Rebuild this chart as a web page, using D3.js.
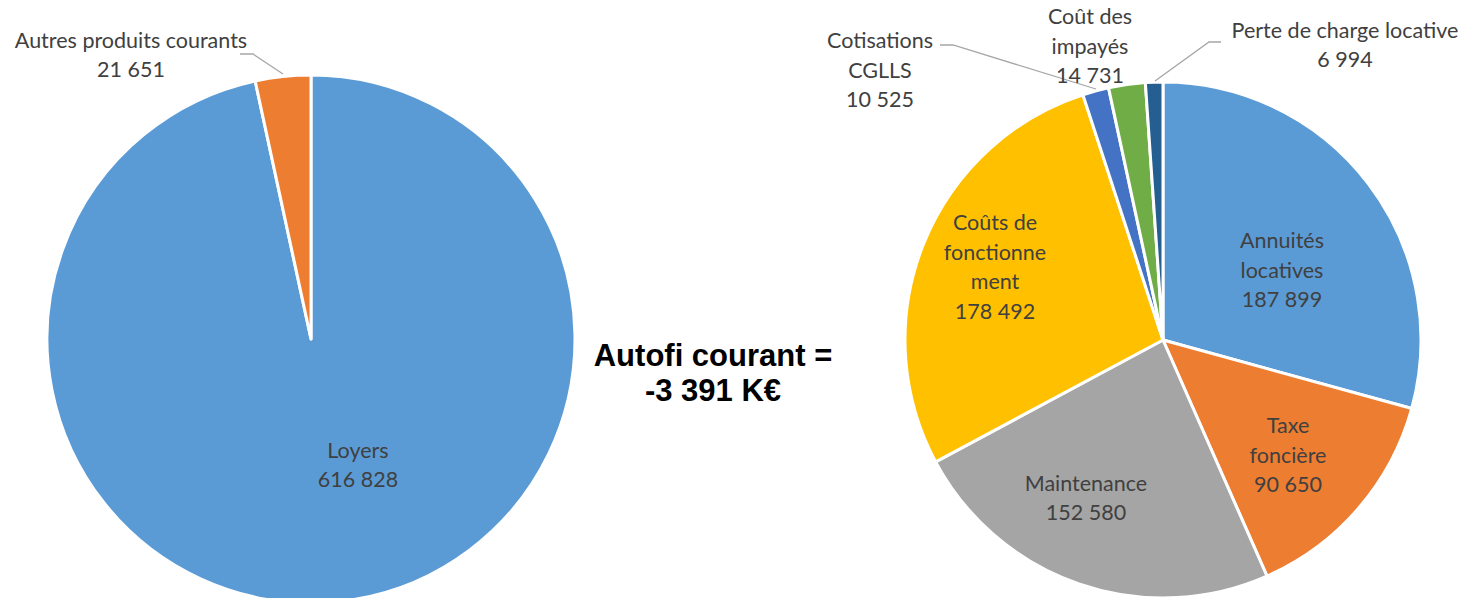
<!DOCTYPE html>
<html>
<head>
<meta charset="utf-8">
<script src="https://cdn.jsdelivr.net/npm/d3@7"></script>
<style>
  body { margin: 0; background: #fff; }
  .lbl { font-family: Lato, "Open Sans", sans-serif; font-size: 21.5px; fill: #404040; }
  .title { font-family: "Liberation Sans", Arial, sans-serif; font-weight: bold; font-size: 31px; fill: #000; }
</style>
</head>
<body>
<div id="chart"></div>
<script>
// produits (left pie)
var incomeNames = ["Loyers", "Autres produits courants"];
var incomeValues = [616828, 21651];
var incomeColors = ["#5B9BD5", "#ED7D31"];

// charges (right pie)
var costNames = ["Annuités locatives", "Taxe foncière", "Maintenance", "Coûts de fonctionnement",
  "Cotisations CGLLS", "Coût des impayés", "Perte de charge locative"];
var costValues = [187899, 90650, 152580, 178492, 10525, 14731, 6994];
var costColors = ["#5B9BD5", "#ED7D31", "#A5A5A5", "#FFC000", "#4472C4", "#70AD47", "#255E91"];

var resultLines = ["Autofi courant =", "-3 391 K€"];

function fmt(v) {
  return d3.format(",")(v).replace(/,/g, " ");
}

var svgWidth = 1481;
var svgHeight = 598;

var svg = d3.select("#chart")
  .append("svg")
  .attr("width", svgWidth)
  .attr("height", svgHeight);

// label layout: text lines and offset from pie centre
var incomeLabels = [
  { lines: ["Loyers"], dx: 47, dy: 126 },
  { lines: ["Autres produits courants"], dx: -180, dy: -284,
    leader: [[-71, -285], [-58, -285], [-28, -265]] }
];
var costLabels = [
  { lines: ["Annuités", "locatives"], dx: 119, dy: -70 },
  { lines: ["Taxe", "foncière"], dx: 125, dy: 115 },
  { lines: ["Maintenance"], dx: -77, dy: 158 },
  { lines: ["Coûts de", "fonctionne", "ment"], dx: -168, dy: -73 },
  { lines: ["Cotisations", "CGLLS"], dx: -283, dy: -270,
    leader: [[-223, -295], [-210, -295], [-67, -251]] },
  { lines: ["Coût des", "impayés"], dx: -73, dy: -294 },
  { lines: ["Perte de charge locative"], dx: 182, dy: -295,
    leader: [[58, -298], [46, -298], [-8, -259]] }
];

function drawPie(cx, cy, radius, names, values, colors, labels) {
  var g = svg.append("g")
    .attr("transform", `translate(${cx}, ${cy})`);

  var pie = d3.pie().sort(null).value(d => d);
  var arc = d3.arc().innerRadius(0).outerRadius(radius);
  var arcs = pie(values);

  g.selectAll("path.slice")
    .data(arcs)
    .enter()
    .append("path")
    .attr("class", "slice")
    .attr("d", arc)
    .attr("fill", (d, i) => colors[i])
    .attr("stroke", "#fff")
    .attr("stroke-width", 3)
    .attr("stroke-linejoin", "round");

  var lineH = 29.5;
  labels.forEach(function(lab, i) {
    var lines = lab.lines.concat([fmt(values[i])]);
    var top = lab.dy - (lines.length - 1) * lineH / 2;
    var t = g.append("text")
      .attr("class", "lbl")
      .attr("text-anchor", "middle");
    lines.forEach(function(s, k) {
      t.append("tspan")
        .attr("x", lab.dx)
        .attr("y", top + k * lineH)
        .attr("dy", "0.35em")
        .text(s);
    });
    if (lab.leader) {
      g.append("path")
        .attr("d", d3.line()(lab.leader))
        .attr("fill", "none")
        .attr("stroke", "#A6A6A6")
        .attr("stroke-width", 1.3);
    }
  });
}

drawPie(311, 339, 264, incomeNames, incomeValues, incomeColors, incomeLabels);
drawPie(1163, 340, 258, costNames, costValues, costColors, costLabels);

var title = svg.append("text")
  .attr("class", "title")
  .attr("text-anchor", "middle");
resultLines.forEach(function(s, k) {
  title.append("tspan")
    .attr("x", 713)
    .attr("y", 355 + k * 35)
    .attr("dy", "0.35em")
    .text(s);
});
</script>
</body>
</html>
